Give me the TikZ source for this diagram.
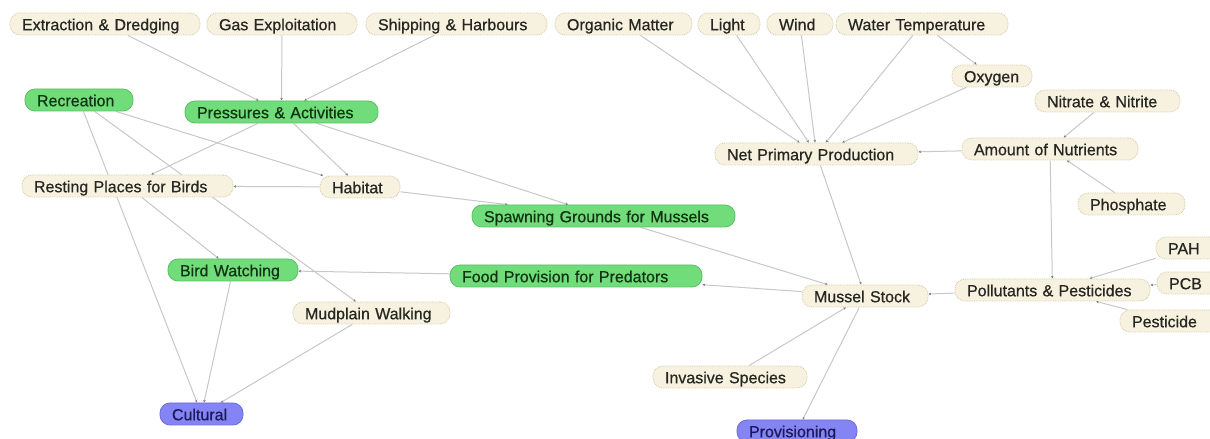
\documentclass[tikz,border=0pt]{standalone}
\usepackage{fontspec}
\setmainfont{Liberation Sans}
\newfontfamily\conceptfont{Liberation Sans}[FakeBold=0.6]
\usetikzlibrary{arrows.meta}
\pgfdeclarelayer{background}
\pgfdeclarelayer{canvas}
\pgfsetlayers{canvas,background,main}
\definecolor{beigefill}{HTML}{F7F1DF}
\definecolor{beigeline}{HTML}{D5CAA6}
\definecolor{beigetext}{HTML}{262622}
\definecolor{greenfill}{HTML}{70DC7A}
\definecolor{greenline}{HTML}{5CC066}
\definecolor{greentext}{HTML}{123214}
\definecolor{bluefill}{HTML}{8484F4}
\definecolor{blueline}{HTML}{6C6CDC}
\definecolor{bluetext}{HTML}{1A1A58}
\definecolor{edgecol}{HTML}{C8C8C8}
\definecolor{tipcol}{HTML}{7A7A7A}
\begin{document}
\begin{tikzpicture}[x=1bp,y=-1bp,
  concept/.style={rectangle, rounded corners=10bp, minimum height=22bp,
    inner xsep=12bp, inner ysep=0bp, align=left,
    text height=12.5bp, text depth=0bp,
    font=\conceptfont\fontsize{16bp}{18bp}\selectfont, line width=0.8bp},
  factor/.style={concept, fill=beigefill, draw=beigeline, densely dotted, text=beigetext},
  service/.style={concept, fill=greenfill, draw=greenline, text=greentext},
  benefit/.style={concept, fill=bluefill, draw=blueline, text=bluetext},
  link/.style={draw=edgecol, line width=1bp,
    -{Stealth[length=2.8bp,width=2.6bp,color=tipcol]}}]
\useasboundingbox (0,0) rectangle (1210,439);
\begin{pgfonlayer}{canvas}
  \fill[white] (0,0) rectangle (1210,439);
\end{pgfonlayer}

% top row: drivers
\node[factor, text width=166bp] (ext)   at (105,24)   {Extraction \& Dredging};
\node[factor, text width=126bp] (gas)   at (282,24)   {Gas Exploitation};
\node[factor, text width=157bp] (ship)  at (456.5,24) {Shipping \& Harbours};
\node[factor, text width=113bp] (org)   at (623.5,24) {Organic Matter};
\node[factor, text width=38bp]  (light) at (729,24)   {Light};
\node[factor, text width=42bp]  (wind)  at (800,24)   {Wind};
\node[factor, text width=148bp] (wtemp) at (922,24)   {Water Temperature};

% right-hand cluster
\node[factor, text width=56bp]  (oxy)   at (992,76)    {Oxygen};
\node[factor, text width=121bp] (nitr)  at (1107.5,101) {Nitrate \& Nitrite};
\node[factor, text width=179bp] (npp)   at (816.5,154) {Net Primary Production};
\node[factor, text width=152bp] (nutr)  at (1050,149)  {Amount of Nutrients};
\node[factor, text width=83bp]  (phos)  at (1131.5,204) {Phosphate};
\node[factor, text width=42bp]  (pah)   at (1189,248)  {PAH};
\node[factor, text width=41bp]  (pcb)   at (1189.5,283) {PCB};
\node[factor, text width=78bp]  (pest)  at (1171,321)  {Pesticide};
\node[factor, text width=171bp] (poll)  at (1052.5,290) {Pollutants \& Pesticides};
\node[factor, text width=102bp] (mussel) at (865,296)  {Mussel Stock};
\node[factor, text width=130bp] (inv)   at (730,377)   {Invasive Species};
\node[benefit, text width=96bp] (prov)  at (797,431)   {Provisioning};

% left-hand cluster
\node[service, text width=84bp]  (rec)   at (79,100)    {Recreation};
\node[service, text width=169bp] (press) at (281.5,112) {Pressures \& Activities};
\node[factor, text width=187bp]  (rest)  at (127.5,186) {Resting Places for Birds};
\node[factor, text width=56bp]   (hab)   at (360,187)   {Habitat};
\node[service, text width=239bp] (spawn) at (603.5,216) {Spawning Grounds for Mussels};
\node[service, text width=106bp] (bird)  at (233,270)   {Bird Watching};
\node[service, text width=228bp] (food)  at (576,276)   {Food Provision for Predators};
\node[factor, text width=133bp]  (mud)   at (371.5,313) {Mudplain Walking};
\node[benefit, text width=59bp]  (cult)  at (201.5,414) {Cultural};

\begin{pgfonlayer}{background}
  % pressures
  \draw[link] (ext) -- (press);
  \draw[link] (gas) -- (press);
  \draw[link] (ship) -- (press);
  % primary production
  \draw[link] (org) -- (npp);
  \draw[link] (light) -- (npp);
  \draw[link] (wind) -- (npp);
  \draw[link] (wtemp) -- (npp);
  \draw[link] (wtemp) -- (oxy);
  \draw[link] (oxy) -- (npp);
  \draw[link] (nitr) -- (nutr);
  \draw[link] (phos) -- (nutr);
  \draw[link] (nutr) -- (npp);
  \draw[link] (nutr) -- (poll);
  % pollutants
  \draw[link] (pah) -- (poll);
  \draw[link] (pcb) -- (poll);
  \draw[link] (pest) -- (poll);
  \draw[link] (poll) -- (mussel);
  % mussel stock
  \draw[link] (npp) -- (mussel);
  \draw[link] (spawn) -- (mussel);
  \draw[link] (inv) -- (mussel);
  \draw[link] (mussel) -- (food);
  \draw[link] (mussel) -- (prov);
  % habitat and recreation
  \draw[link] (press) -- (rest);
  \draw[link] (press) -- (hab);
  \draw[link] (press) -- (spawn);
  \draw[link] (rec) -- (hab);
  \draw[link] (rec) -- (cult);
  \draw[link] (rec) -- (mud);
  \draw[link] (hab) -- (rest);
  \draw[link] (hab) -- (spawn);
  \draw[link] (rest) -- (bird);
  \draw[link] (food) -- (bird);
  \draw[link] (bird) -- (cult);
  \draw[link] (mud) -- (cult);
\end{pgfonlayer}
\end{tikzpicture}
\end{document}
